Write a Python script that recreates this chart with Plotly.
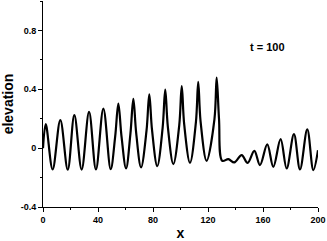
import plotly.graph_objects as go

# Key points of the surface elevation profile at t = 100 (peaks, flanks and troughs)
x_vals = [0, 2.0, 7.0, 12.6, 18.0, 22.8, 28.1, 33.5, 38.5, 43.9, 49.2,
          52.5, 54.8, 57.1, 60.4,
          63.6, 65.7, 67.8, 71.3,
          75.3, 77.3, 79.3, 83.1,
          87.0, 88.9, 90.8, 94.8,
          99.1, 100.9, 102.7, 106.9,
          111.2, 112.9, 114.6, 119.0,
          124.7, 126.3, 128.0,
          130.4, 134.8, 139.1, 144.5, 148.8, 153.7, 157.8, 163.1, 167.5, 172.8,
          177.2, 182.5, 186.9, 192.2, 196.6, 200.0]
elevation = [0.0, 0.163, -0.145, 0.19, -0.147, 0.224, -0.146, 0.246, -0.145, 0.269, -0.143,
             0.08, 0.303, 0.08, -0.138,
             0.10, 0.335, 0.10, -0.131,
             0.12, 0.366, 0.122, -0.122,
             0.138, 0.398, 0.145, -0.108,
             0.157, 0.422, 0.161, -0.100,
             0.175, 0.45, 0.182, -0.086,
             0.197, 0.479, 0.20,
             -0.086, -0.075, -0.097, -0.047, -0.100, -0.018, -0.115, 0.025, -0.127, 0.061,
             -0.138, 0.095, -0.145, 0.127, -0.149, -0.014]

x_ticks = [0, 40, 80, 120, 160, 200]
x_tick_labels = ["0", "40", "80", "120", "160", "200"]
y_ticks = [-0.4, 0, 0.4, 0.8]
y_tick_labels = ["-0.4", "0", "0.4", "0.8"]

fig = go.Figure()
fig.add_trace(go.Scatter(
    x=x_vals, y=elevation, mode="lines",
    line=dict(color="black", width=2.2, shape="spline", smoothing=1.0),
    showlegend=False,
))

font_family = "Liberation Sans, Arial, sans-serif"

fig.update_layout(
    width=327, height=241,
    margin=dict(l=43, r=9, t=1, b=34),
    paper_bgcolor="white", plot_bgcolor="white",
    annotations=[dict(x=163.6, y=0.685, xref="x", yref="y", text="t = 100",
                      showarrow=False,
                      font=dict(family=font_family, size=11, color="black", weight="bold"))],
)
fig.update_xaxes(
    range=[0, 200], tickvals=x_ticks, ticktext=x_tick_labels,
    showline=True, linecolor="black", linewidth=1, mirror=False,
    showgrid=False, zeroline=False,
    ticks="outside", ticklen=4, tickcolor="black", tickwidth=1,
    minor=dict(ticks="outside", ticklen=2, dtick=20, tick0=0, tickcolor="black", showgrid=False),
    tickfont=dict(family=font_family, size=9, color="black", weight="bold"),
    title=dict(text="x", standoff=4,
               font=dict(family=font_family, size=14, color="black", weight="bold")),
)
fig.update_yaxes(
    range=[-0.4, 1.0], tickvals=y_ticks, ticktext=y_tick_labels,
    showline=True, linecolor="black", linewidth=1, mirror=False,
    showgrid=False, zeroline=False,
    ticks="outside", ticklen=4, tickcolor="black", tickwidth=1,
    minor=dict(ticks="outside", ticklen=2, dtick=0.2, tick0=0, tickcolor="black", showgrid=False),
    tickfont=dict(family=font_family, size=9, color="black", weight="bold"),
    title=dict(text="elevation", standoff=6,
               font=dict(family=font_family, size=14, color="black", weight="bold")),
)

fig.write_html("out.html", config={"displayModeBar": False},
               post_script="document.body.style.margin='0';")
